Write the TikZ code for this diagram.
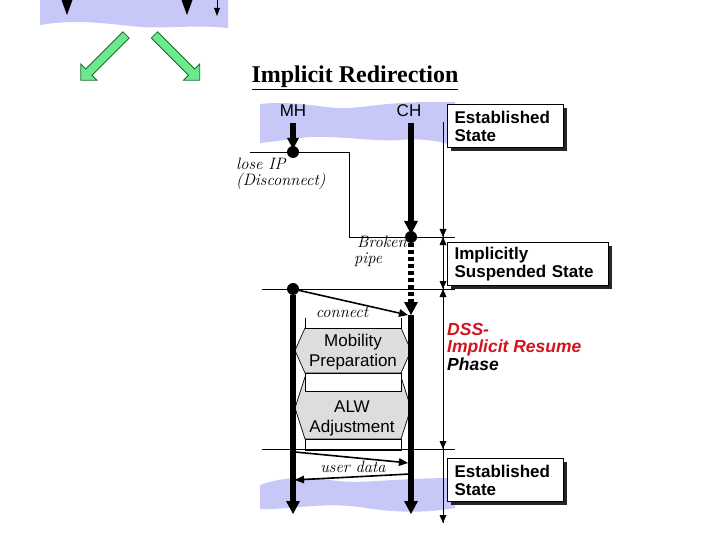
\documentclass[tikz,border=0pt]{standalone}
\usepackage{fontspec}
\usepackage{tikz}
\usetikzlibrary{shapes.arrows,shadows}
\newfontfamily\arialfont{Liberation Sans}
\newfontfamily\timesfont{Liberation Serif}
\definecolor{lavender}{RGB}{200,200,248}
\definecolor{arrowgreen}{RGB}{110,232,140}
\definecolor{darkgreen}{RGB}{20,110,40}
\definecolor{phasered}{RGB}{210,20,30}
\definecolor{boxgray}{RGB}{221,221,221}
\newcommand{\bighead}[1]{\fill (#1) -- ++(-7,-13) -- ++(14,0) -- cycle;}
\newcommand{\headdown}[1]{\fill (#1) -- ++(-3.5,-8) -- ++(7,0) -- cycle;}
\newcommand{\headup}[1]{\fill (#1) -- ++(-3.5,8) -- ++(7,0) -- cycle;}

\begin{document}
\begin{tikzpicture}[x=1pt,y=-1pt,
  thickline/.style={line width=5.5pt},
  thinline/.style={line width=0.9pt},
  dotnode/.style={circle,fill=black,minimum size=12pt},
  sanslabel/.style={font=\arialfont\fontsize{17}{20}\selectfont,align=center},
  notelabel/.style={font=\itshape\fontsize{16.5}{15.5}\selectfont,align=left},
  statebox/.style={draw=black,line width=1.2pt,fill=white,anchor=north west,align=left,
    inner xsep=7pt,inner ysep=3pt,minimum height=43pt,
    font=\arialfont\bfseries\fontsize{17}{18}\selectfont,
    drop shadow={shadow xshift=3pt,shadow yshift=-3pt,fill=black!85,opacity=1}},
  phaselabel/.style={font=\arialfont\bfseries\itshape\fontsize{17.5}{17.5}\selectfont,align=left,anchor=north west},
  hexblock/.style={draw=black,line width=0.7pt,fill=boxgray},
  blankbox/.style={draw=black,line width=0.7pt,fill=white},
  greenarrow/.style={single arrow,draw=darkgreen,fill=arrowgreen,line width=0.8pt,
    minimum height=64pt,minimum width=22pt,single arrow head extend=7pt,inner sep=4pt}]
\tikzstyle{every node}+=[inner sep=0pt]
\useasboundingbox (0,0) rectangle (720,540);

\fill[lavender] (40,0) -- (228,0) -- (228,28) .. controls (190,24) and (165,30) .. (130,26) .. controls (95,22) and (70,20) .. (40,25) -- cycle;
\fill (61.5,0) -- (72.5,0) -- (67,15) -- cycle;
\fill (181.5,0) -- (192.5,0) -- (187,15) -- cycle;
\coordinate (oldtop) at (217,0);
\coordinate (oldtip) at (217,16);
\draw[thinline] (oldtop) -- (217,9);
\fill (oldtip) -- ++(-3,-8) -- ++(6,0) -- cycle;
\node[greenarrow,rotate=225] (leftmove) at (105,56) {};
\node[greenarrow,rotate=-45] (rightmove) at (175.5,56) {};

\node[font=\timesfont\bfseries\fontsize{24}{28}\selectfont] (title) at (355,78) {\underline{Implicit Redirection}};

\fill[lavender] (260,104) .. controls (300,100) and (330,110) .. (350,108) .. controls (375,106) and (395,101) .. (455,102) -- (455,146) .. controls (440,141) and (420,138) .. (400,140) .. controls (370,142) and (330,134) .. (300,138) .. controls (285,140) and (270,142) .. (260,143) -- cycle;
\fill[lavender] (260,485) .. controls (280,478) and (300,476) .. (330,480) .. controls (360,485) and (390,478) .. (455,478) -- (455,508) .. controls (420,514) and (390,512) .. (360,507) .. controls (320,502) and (290,510) .. (260,509) -- cycle;

\filldraw[hexblock] (305,328) -- (401,328) -- (411,350.5) -- (401,373) -- (305,373) -- (295,350.5) -- cycle;
\filldraw[hexblock] (305,377) -- (401,377) -- (411,408) -- (401,439) -- (305,439) -- (295,408) -- cycle;
\fill[white] (305,318) rectangle (401,328);
\draw[blankbox] (305,318) -- (305,328) -- (401,328) -- (401,318);
\filldraw[blankbox] (305,373) rectangle (401,391);
\filldraw[blankbox] (305,439) rectangle (401,450);
\node[sanslabel] (mobprep) at (353,352) {Mobility\\Preparation};
\node[sanslabel] (alwadj) at (352,418) {ALW\\Adjustment};

\node[sanslabel] (mh) at (293,111) {MH};
\node[sanslabel] (ch) at (409,111) {CH};

\coordinate (lossleft) at (250,152);
\coordinate (lossbend) at (349,152);
\coordinate (pipebend) at (349,237);
\coordinate (pipetick) at (455,237);
\draw[thinline] (lossleft) -- (lossbend) -- (pipebend) -- (pipetick);
\coordinate (resumeleft) at (262,289);
\coordinate (resumeright) at (455,289);
\draw[thinline] (resumeleft) -- (resumeright);
\coordinate (dataleft) at (262,449);
\coordinate (dataright) at (455,449);
\draw[thinline] (dataleft) -- (dataright);

\coordinate (statetop) at (443,122);
\coordinate (statelost) at (443,237);
\coordinate (stateresume) at (443,289);
\coordinate (stateback) at (443,449);
\coordinate (stateend) at (443,523);
\draw[thinline] (statetop) -- (stateend);
\headdown{statelost}
\headup{statelost}
\headdown{stateresume}
\headup{stateresume}
\headdown{stateback}
\headdown{stateend}

\coordinate (mhtop) at (293,123);
\coordinate (mhlosstip) at (293,149);
\node[dotnode] (mhloss) at (293,152) {};
\draw[thickline] (mhtop) -- (293,140);
\fill (mhlosstip) -- ++(-6,-11) -- ++(12,0) -- cycle;

\coordinate (chtop) at (411,123);
\coordinate (chbreaktip) at (411,234);
\node[dotnode] (chbreak) at (411,237) {};
\draw[thickline] (chtop) -- (411,224);
\bighead{chbreaktip}
\coordinate (chresume) at (411,315);
\draw[thickline,dash pattern=on 4pt off 3pt] (chbreak) -- (411,303);
\bighead{chresume}

\node[dotnode] (mhconn) at (293,289) {};
\coordinate (mhend) at (293,514);
\draw[thickline] (mhconn) -- (293,503);
\bighead{mhend}
\coordinate (chend) at (411,514);
\draw[thickline] (chresume) -- (411,503);
\bighead{chend}

\coordinate (conntip) at (408,315);
\draw[line width=1.6pt] (mhconn) -- (399,313);
\fill (conntip) -- ++(-9.7,1.9) -- ++(1.8,-7.8) -- cycle;
\coordinate (upstart) at (295,452);
\coordinate (uptip) at (408,463);
\draw[line width=1.6pt] (upstart) -- (399,462);
\fill (uptip) -- ++(-9.4,3.1) -- ++(0.8,-8) -- cycle;
\coordinate (downstart) at (410,474);
\coordinate (downtip) at (295,480);
\draw[line width=1.6pt] (downstart) -- (304,479.5);
\fill (downtip) -- ++(8.8,-4.5) -- ++(0.4,8) -- cycle;

\node[notelabel,anchor=north west] (loseip) at (236,158) {lose IP\\(Disconnect)};
\node[notelabel,anchor=north west] (brokenpipe) at (354,236) {\hspace{3pt}Broken\\pipe};
\node[notelabel,anchor=base] (connect) at (342,317) {connect};
\node[notelabel,anchor=base] (userdata) at (353,472) {user data};

\node[statebox,text width=102pt] (established) at (447,104) {Established\\State};
\node[statebox,text width=147pt] (suspended) at (447,242) {Implicitly\\Suspended State};
\node[phaselabel] (dssphase) at (447,323) {\textcolor{phasered}{DSS-}\\\textcolor{phasered}{Implicit Resume}\\Phase};
\node[statebox,text width=102pt] (reestablished) at (447,458) {Established\\State};
\end{tikzpicture}
\end{document}
